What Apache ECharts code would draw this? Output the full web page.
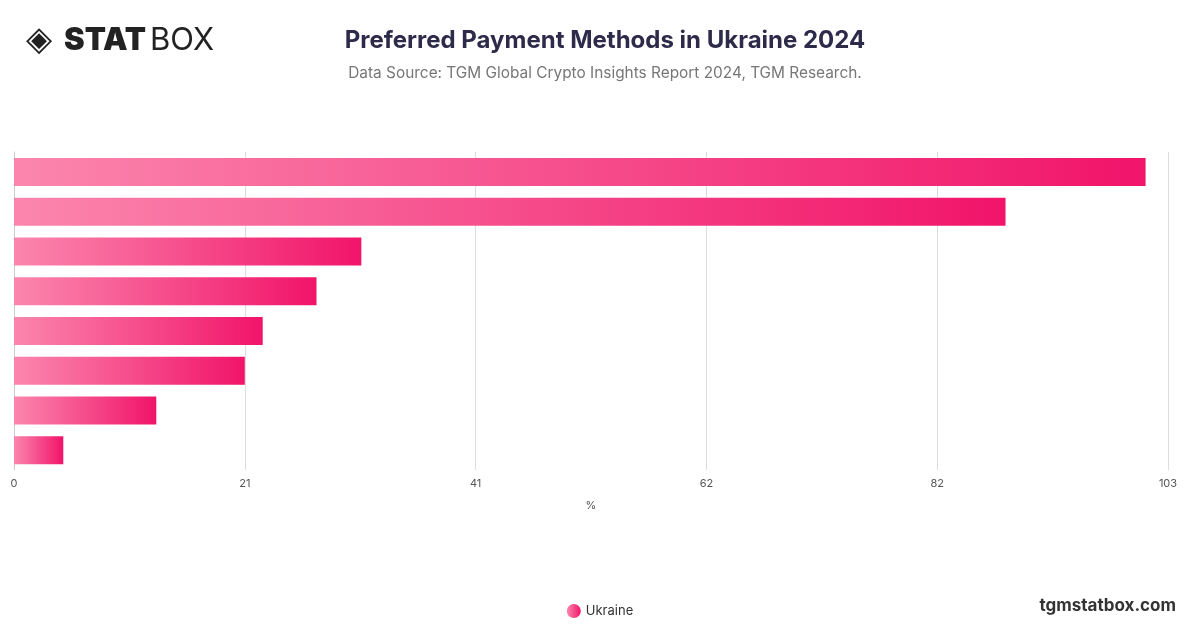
<!DOCTYPE html>
<html><head><meta charset="utf-8">
<script src="https://cdn.jsdelivr.net/npm/echarts@6/dist/echarts.min.js"></script>
<style>body{margin:0}#c{width:1200px;height:628px}</style></head>
<body><div id="c"></div>
<script>
const categories = ["Method 1","Method 2","Method 3","Method 4","Method 5","Method 6","Method 7","Method 8"];
const values = [101, 88.5, 31, 27, 22.2, 20.6, 12.7, 4.4];
const seriesName = "Ukraine";
const chart = echarts.init(document.getElementById('c'));
const grad = new echarts.graphic.LinearGradient(0,0,1,0,[{offset:0,color:'#fb86ad'},{offset:1,color:'#f1146a'}]);
chart.setOption({
  backgroundColor:'#fff',
  title:{text:'Preferred Payment Methods in Ukraine 2024',subtext:'Data Source: TGM Global Crypto Insights Report 2024, TGM Research.',left:600,textAlign:'center',top:24,
    textStyle:{fontFamily:'Inter',fontSize:24,fontWeight:'bold',color:'#2e2a4a'},
    subtextStyle:{fontFamily:'Inter',fontSize:15.4,color:'#777'},itemGap:13},
  graphic:[
    {type:'text',left:26,top:24,style:{text:'◈',fontSize:34,fill:'#222',fontFamily:'DejaVu Sans'}},
    {type:'text',left:64,top:25,style:{text:'STAT',fontSize:31,fontWeight:'900',fill:'#222',fontFamily:'Inter'}},
    {type:'text',left:150,top:25,style:{text:'BOX',fontSize:31,fontWeight:'400',fill:'#222',fontFamily:'Inter'}},
    {type:'text',right:24,top:597,style:{text:'tgmstatbox.com',fontSize:17,fontWeight:'bold',fill:'#333',fontFamily:'Inter'}}
  ],
  legend:{bottom:5,left:'center',icon:'circle',itemWidth:14,itemHeight:14,textStyle:{fontFamily:'Inter',fontSize:13,color:'#333'}},
  grid:{left:14,right:32,top:152,bottom:158,containLabel:false},
  xAxis:{type:'value',min:0,max:103,interval:20.6,name:'%',nameLocation:'middle',nameGap:30,
    nameTextStyle:{fontSize:11,color:'#555',fontFamily:'Inter'},
    axisLabel:{formatter:v=>Math.round(v),fontSize:11,color:'#555',fontFamily:'Inter'},
    splitLine:{lineStyle:{color:'#ddd'}},axisLine:{show:false},axisTick:{show:false}},
  yAxis:{type:'category',data:categories,inverse:true,axisLabel:{show:false},axisTick:{show:false},
    axisLine:{show:true,lineStyle:{color:'#ccc'}}},
  series:[{name:seriesName,type:'bar',data:values,barWidth:28,itemStyle:{color:grad}}]
});
</script></body></html>
